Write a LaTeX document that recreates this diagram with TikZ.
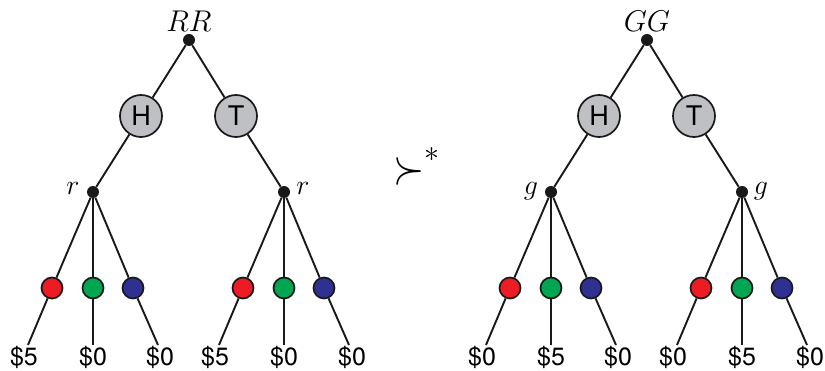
\RequirePackage{fix-cm}
\documentclass[tikz,border=0pt]{standalone}
\usepackage{fontspec}
\newfontfamily\heros{TeX Gyre Heros}
\definecolor{coingray}{RGB}{190,192,195}
\definecolor{ballred}{RGB}{237,28,36}
\definecolor{ballgreen}{RGB}{0,166,81}
\definecolor{ballblue}{RGB}{46,49,146}
\tikzset{
  edge/.style={line width=1.9pt, black!90},
  dotnode/.style={circle, fill=black!90, inner sep=0pt, minimum size=12pt},
  coin/.style={circle, draw=black!90, line width=1.7pt, fill=coingray, inner sep=0pt, minimum size=42pt, font=\heros\fontsize{27}{30}\selectfont},
  ball/.style={circle, draw=black!90, line width=1.7pt, inner sep=0pt, minimum size=21pt},
  pay/.style={font=\heros\fontsize{25}{28}\selectfont, inner sep=0pt, anchor=base},
  lab/.style={font=\fontsize{28}{31}\selectfont, inner sep=0pt, anchor=base},
  toplab/.style={font=\fontsize{30}{33}\selectfont, inner sep=0pt, anchor=base},
}
\newcommand\gtree[7]{%
\begin{scope}[xshift=#2]
  \node[dotnode] (#1root) at (189,40) {};
  \node[toplab] (#1rootlab) at (189,32) {$#3$};
  \node[coin] (#1H) at (141,116) {H};
  \node[coin] (#1T) at (236,116) {T};
  \node[dotnode] (#1dl) at (93,192) {};
  \node[dotnode] (#1dr) at (284,192) {};
  \node[lab] (#1dllab) at (73,195) {$#4$};
  \node[lab] (#1drlab) at (303,195) {$#4$};
  \draw[edge] (#1root) -- (#1H);
  \draw[edge] (#1root) -- (#1T);
  \draw[edge] (#1H) -- (#1dl);
  \draw[edge] (#1T) -- (#1dr);
  % left decision
  \node[ball, fill=ballred] (#1la) at (52,288) {};
  \node[ball, fill=ballgreen] (#1lb) at (93,288) {};
  \node[ball, fill=ballblue] (#1lc) at (133,288) {};
  \coordinate (#1lae) at (28,345);
  \coordinate (#1lbe) at (93,345);
  \coordinate (#1lce) at (158,345);
  \draw[edge] (#1dl) -- (#1la) -- (#1lae);
  \draw[edge] (#1dl) -- (#1lb) -- (#1lbe);
  \draw[edge] (#1dl) -- (#1lc) -- (#1lce);
  \node[pay] (#1lap) at (24,366) {\$#5};
  \node[pay] (#1lbp) at (93,366) {\$#6};
  \node[pay] (#1lcp) at (160,366) {\$#7};
  % right decision
  \node[ball, fill=ballred] (#1ra) at (243,288) {};
  \node[ball, fill=ballgreen] (#1rb) at (284,288) {};
  \node[ball, fill=ballblue] (#1rc) at (324,288) {};
  \coordinate (#1rae) at (219,345);
  \coordinate (#1rbe) at (284,345);
  \coordinate (#1rce) at (349,345);
  \draw[edge] (#1dr) -- (#1ra) -- (#1rae);
  \draw[edge] (#1dr) -- (#1rb) -- (#1rbe);
  \draw[edge] (#1dr) -- (#1rc) -- (#1rce);
  \node[pay] (#1rap) at (215,366) {\$#5};
  \node[pay] (#1rbp) at (284,366) {\$#6};
  \node[pay] (#1rcp) at (352,366) {\$#7};
\end{scope}}
\begin{document}
\begin{tikzpicture}[x=1pt,y=-1pt]
\useasboundingbox (0,0) rectangle (825,371);
\gtree{A}{0pt}{RR}{r}{5}{0}{0}
\gtree{B}{458pt}{GG}{g}{0}{5}{0}
\node[font=\fontsize{40}{44}\selectfont, inner sep=0pt] (pref) at (409,172) {\scalebox{1}[1.2]{$\succ$}};
\node[font=\fontsize{30}{34}\selectfont, inner sep=0pt, anchor=west] (star) at (pref.east) [yshift=17pt] {$\ast$};
\end{tikzpicture}
\end{document}
